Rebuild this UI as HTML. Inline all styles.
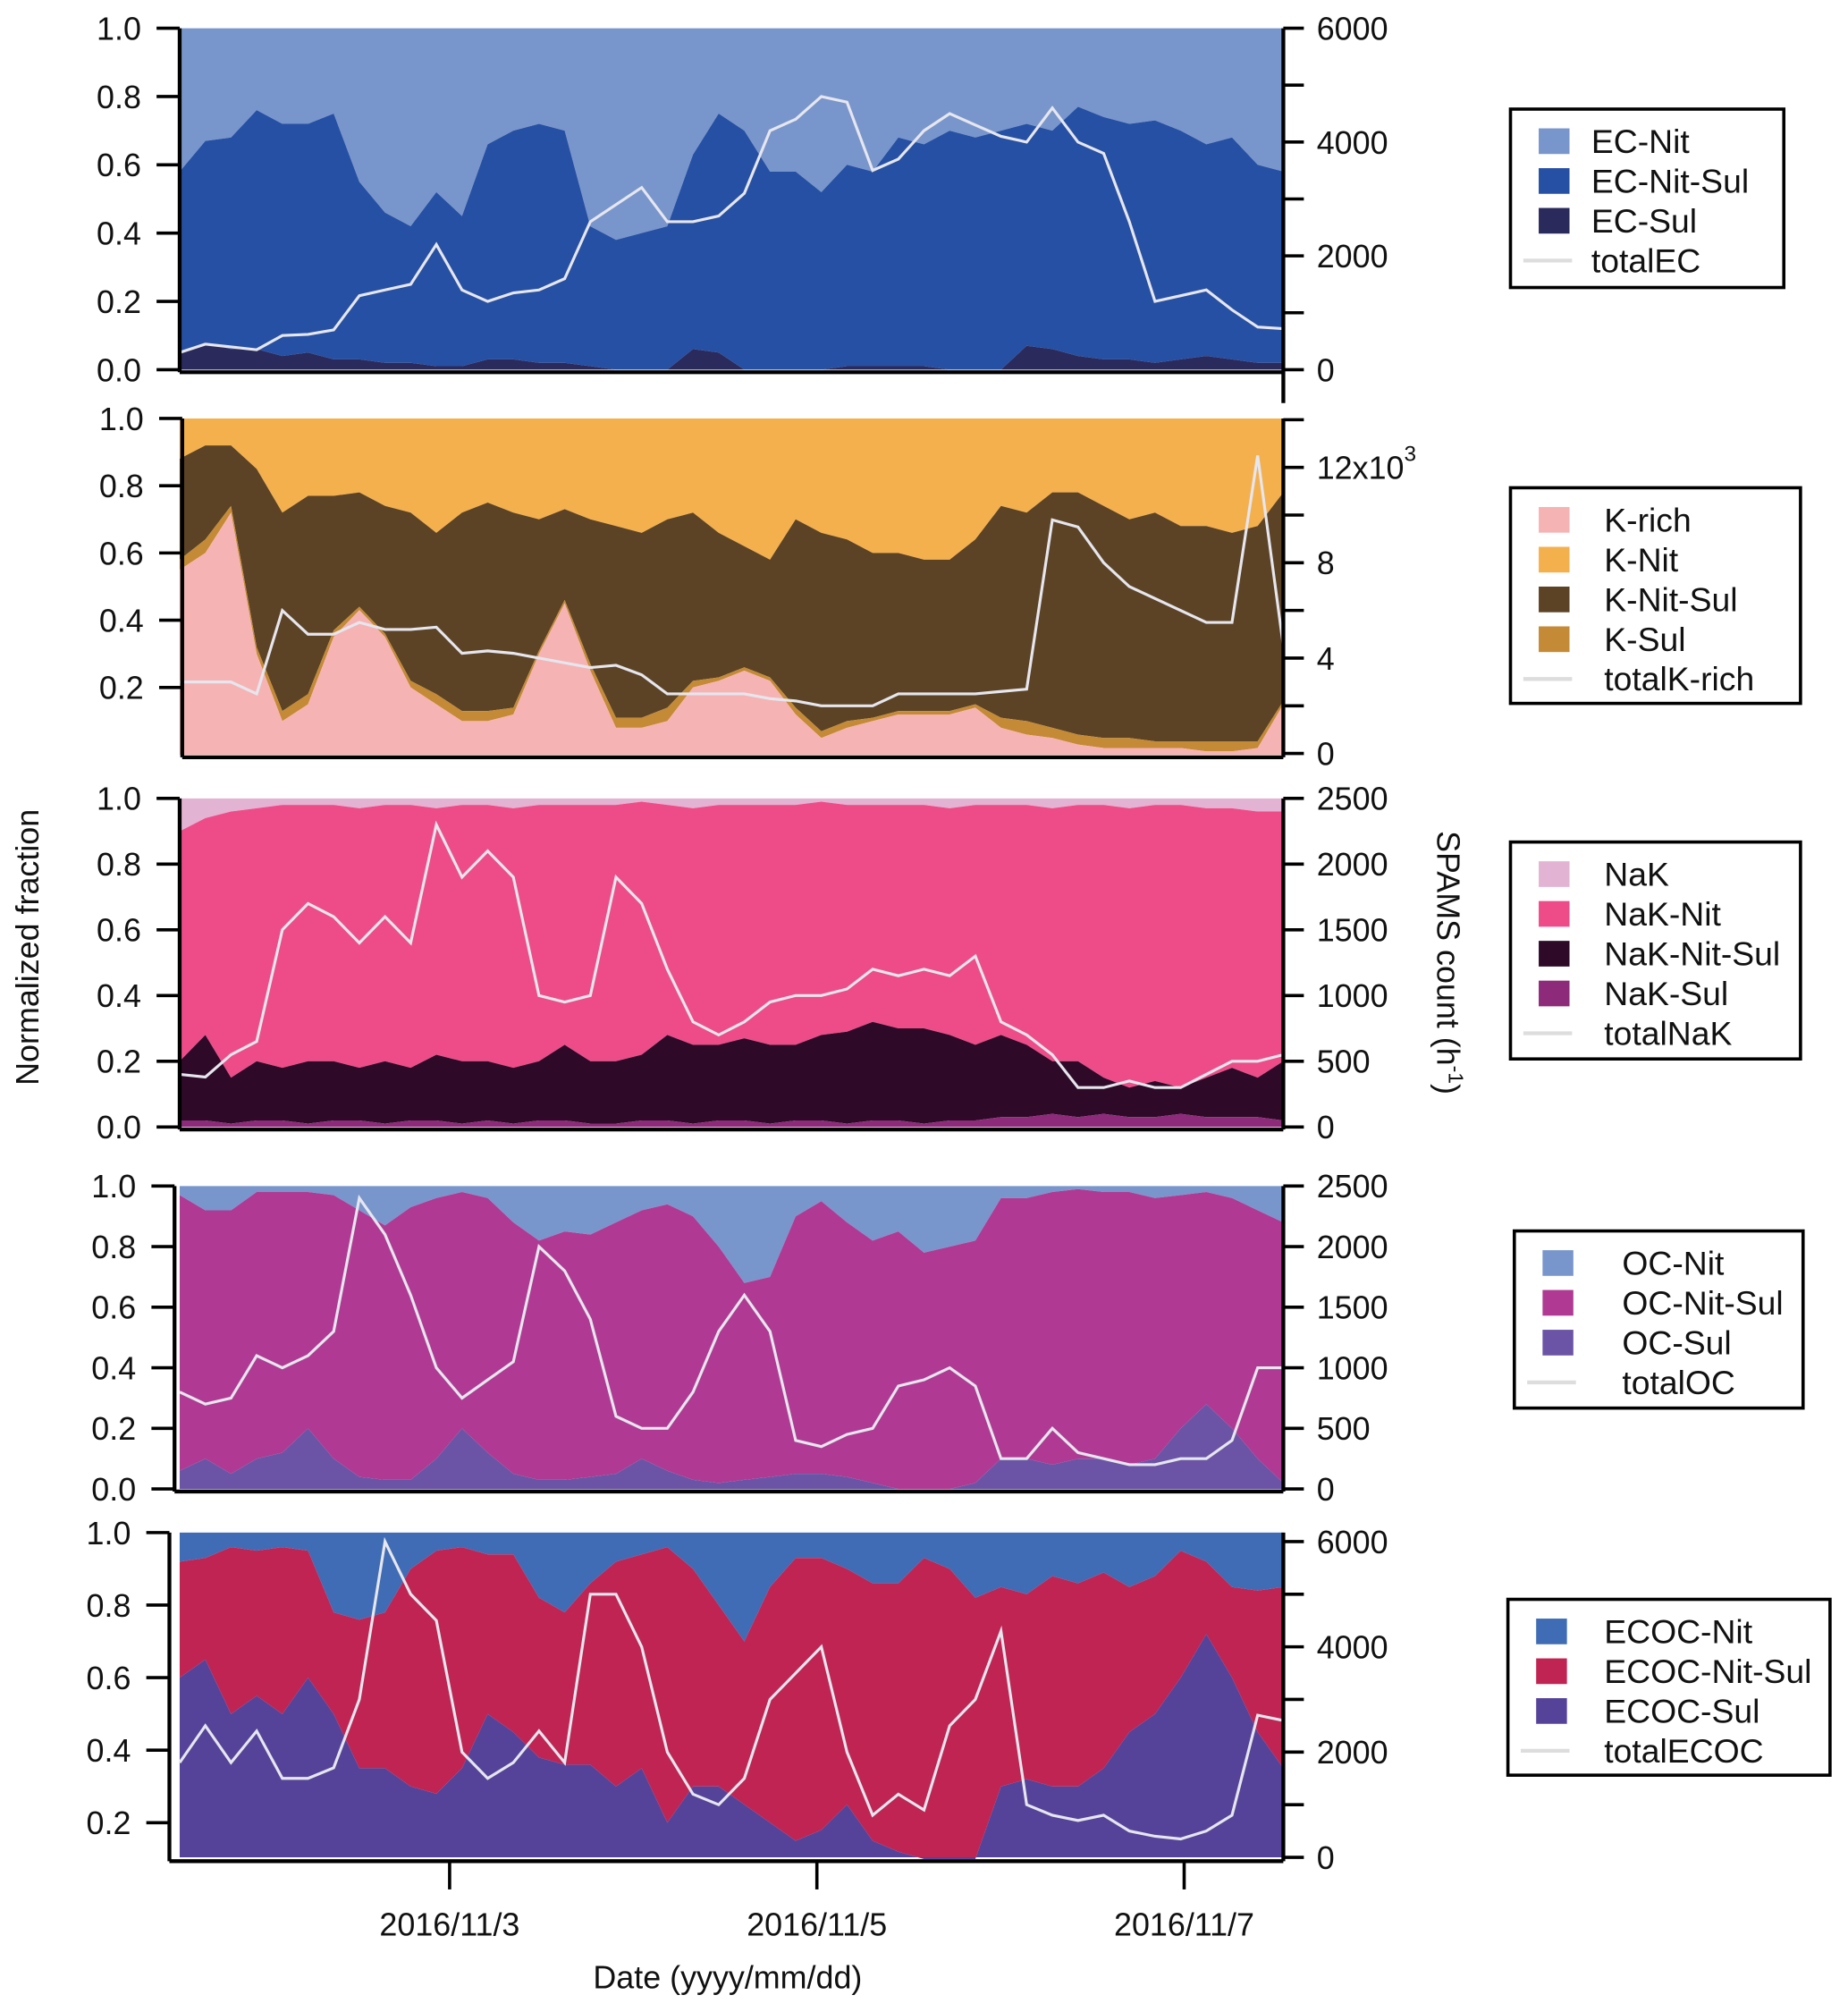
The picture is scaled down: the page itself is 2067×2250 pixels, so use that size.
<!DOCTYPE html>
<html><head><meta charset="utf-8"><style>
html,body{margin:0;padding:0;background:#fff}
svg{display:block}
text{font-family:"Liberation Sans",Arial,sans-serif;fill:#111}
</style></head><body>
<svg id="chart" width="2067" height="2250" viewBox="0 0 1440 1567.5" xmlns="http://www.w3.org/2000/svg"></svg>
<script>
const nPts = 44;
// Panel 1: EC
const ecSul = [0.05,0.08,0.06,0.06,0.04,0.05,0.03,0.03,0.02,0.02,0.01,0.01,0.03,0.03,0.02,0.02,0.01,0.0,0.0,0.0,0.06,0.05,0.0,0.0,0.0,0.0,0.01,0.01,0.01,0.01,0.0,0.0,0.0,0.07,0.06,0.04,0.03,0.03,0.02,0.03,0.04,0.03,0.02,0.02];
const ecNitSulTop = [0.58,0.67,0.68,0.76,0.72,0.72,0.75,0.55,0.46,0.42,0.52,0.45,0.66,0.70,0.72,0.70,0.42,0.38,0.40,0.42,0.63,0.75,0.70,0.58,0.58,0.52,0.60,0.58,0.68,0.66,0.70,0.68,0.70,0.72,0.70,0.77,0.74,0.72,0.73,0.70,0.66,0.68,0.60,0.58];
const totalEC = [300,450,400,350,600,620,700,1300,1400,1500,2200,1400,1200,1350,1400,1600,2600,2900,3200,2600,2600,2700,3100,4200,4400,4800,4700,3500,3700,4200,4500,4300,4100,4000,4600,4000,3800,2600,1200,1300,1400,1050,750,720];
// Panel 2: K
const kRich = [0.55,0.6,0.72,0.3,0.1,0.15,0.35,0.43,0.35,0.2,0.15,0.10,0.10,0.12,0.3,0.45,0.25,0.08,0.08,0.1,0.2,0.22,0.25,0.22,0.12,0.05,0.08,0.1,0.12,0.12,0.12,0.14,0.08,0.06,0.05,0.03,0.02,0.02,0.02,0.02,0.01,0.01,0.02,0.15];
const kSul = [0.03,0.04,0.02,0.02,0.03,0.03,0.02,0.01,0.01,0.02,0.03,0.03,0.03,0.02,0.01,0.01,0.02,0.03,0.03,0.04,0.02,0.01,0.01,0.01,0.02,0.02,0.02,0.01,0.01,0.01,0.01,0.01,0.03,0.04,0.03,0.03,0.03,0.03,0.02,0.02,0.03,0.03,0.02,0.01];
const kNitSulTop = [0.88,0.92,0.92,0.85,0.72,0.77,0.77,0.78,0.74,0.72,0.66,0.72,0.75,0.72,0.70,0.73,0.70,0.68,0.66,0.70,0.72,0.66,0.62,0.58,0.70,0.66,0.64,0.60,0.60,0.58,0.58,0.64,0.74,0.72,0.78,0.78,0.74,0.70,0.72,0.68,0.68,0.66,0.68,0.78];
const totalK = [3.0,3.0,3.0,2.5,6.0,5.0,5.0,5.5,5.2,5.2,5.3,4.2,4.3,4.2,4.0,3.8,3.6,3.7,3.3,2.5,2.5,2.5,2.5,2.3,2.2,2.0,2.0,2.0,2.5,2.5,2.5,2.5,2.6,2.7,9.8,9.5,8.0,7.0,6.5,6.0,5.5,5.5,12.5,4.5];
// Panel 3: NaK
const nakSul = [0.02,0.02,0.01,0.02,0.02,0.01,0.02,0.02,0.01,0.02,0.02,0.01,0.02,0.01,0.02,0.02,0.01,0.01,0.02,0.02,0.01,0.02,0.02,0.01,0.02,0.02,0.01,0.02,0.02,0.01,0.02,0.02,0.03,0.03,0.04,0.03,0.04,0.03,0.03,0.04,0.03,0.03,0.03,0.02];
const nakNitSul = [0.18,0.26,0.14,0.18,0.16,0.19,0.18,0.16,0.19,0.16,0.2,0.19,0.18,0.17,0.18,0.23,0.19,0.19,0.2,0.26,0.24,0.23,0.25,0.24,0.23,0.26,0.28,0.3,0.28,0.29,0.26,0.23,0.25,0.22,0.16,0.17,0.11,0.09,0.11,0.08,0.12,0.15,0.12,0.18];
const nakFrac = [0.1,0.06,0.04,0.03,0.02,0.02,0.02,0.03,0.02,0.02,0.03,0.02,0.02,0.03,0.02,0.02,0.02,0.02,0.01,0.02,0.03,0.02,0.02,0.02,0.02,0.01,0.02,0.02,0.02,0.02,0.03,0.02,0.02,0.02,0.03,0.02,0.02,0.03,0.02,0.02,0.03,0.03,0.04,0.04];
const totalNaK = [400,380,550,650,1500,1700,1600,1400,1600,1400,2300,1900,2100,1900,1000,950,1000,1900,1700,1200,800,700,800,950,1000,1000,1050,1200,1150,1200,1150,1300,800,700,550,300,300,350,300,300,400,500,500,550];
// Panel 4: OC
const ocSul = [0.06,0.1,0.05,0.1,0.12,0.2,0.1,0.04,0.03,0.03,0.1,0.2,0.12,0.05,0.03,0.03,0.04,0.05,0.1,0.06,0.03,0.02,0.03,0.04,0.05,0.05,0.04,0.02,0.0,0.0,0.0,0.02,0.1,0.1,0.08,0.1,0.1,0.08,0.1,0.2,0.28,0.2,0.1,0.02];
const ocNitSulTop = [0.97,0.92,0.92,0.98,0.98,0.98,0.97,0.92,0.87,0.93,0.96,0.98,0.96,0.88,0.82,0.85,0.84,0.88,0.92,0.94,0.90,0.80,0.68,0.70,0.90,0.95,0.88,0.82,0.85,0.78,0.80,0.82,0.96,0.96,0.98,0.99,0.98,0.98,0.96,0.97,0.98,0.96,0.92,0.88];
const totalOC = [800,700,750,1100,1000,1100,1300,2400,2100,1600,1000,750,900,1050,2000,1800,1400,600,500,500,800,1300,1600,1300,400,350,450,500,850,900,1000,850,250,250,500,300,250,200,200,250,250,400,1000,1000];
// Panel 5: ECOC
const ecocSulTop = [0.6,0.65,0.5,0.55,0.5,0.6,0.5,0.35,0.35,0.3,0.28,0.35,0.5,0.45,0.38,0.36,0.36,0.3,0.35,0.2,0.3,0.3,0.25,0.2,0.15,0.18,0.25,0.15,0.12,0.1,0.1,0.1,0.3,0.32,0.3,0.3,0.35,0.45,0.5,0.6,0.72,0.6,0.45,0.35];
const ecocNitSulTop = [0.92,0.93,0.96,0.95,0.96,0.95,0.78,0.76,0.78,0.9,0.95,0.96,0.94,0.94,0.82,0.78,0.86,0.92,0.94,0.96,0.9,0.8,0.7,0.85,0.93,0.93,0.9,0.86,0.86,0.93,0.9,0.82,0.85,0.83,0.88,0.86,0.89,0.85,0.88,0.95,0.92,0.85,0.84,0.85];
const totalECOC = [1800,2500,1800,2400,1500,1500,1700,3000,6000,5000,4500,2000,1500,1800,2400,1800,5000,5000,4000,2000,1200,1000,1500,3000,3500,4000,2000,800,1200,900,2500,3000,4300,1000,800,700,800,500,400,350,500,800,2700,2600];
const dateLabels = ["2016/11/3","2016/11/5","2016/11/7"];
const dateTickDays = [1.47,3.47,5.47];

const svg = document.getElementById('chart');
const NS = 'http://www.w3.org/2000/svg';
function mk(tag, attrs, parent){const e=document.createElementNS(NS,tag);for(const k in attrs)e.setAttribute(k,attrs[k]);(parent||svg).appendChild(e);return e;}
const X0=140, X1=1000, DAYS=6.01;
function xAt(i){return X0 + (i*(DAYS/(nPts-1)))*(X1-X0)/DAYS;}
function xDay(d){return X0 + d*(X1-X0)/DAYS;}

function panel(cfg){
  const g = mk('g',{});
  
  
  const yL = v => cfg.y0 - v*(cfg.y0-cfg.y1);
  const yR = v => cfg.r0 - v/cfg.rMax*(cfg.r0-cfg.r1);
  const fb = cfg.fillBottom!=null ? cfg.fillBottom : cfg.y0;
  cfg.layers.forEach(L=>{
    let d='';
    for(let i=0;i<nPts;i++) d+=(i?'L':'M')+xAt(i).toFixed(1)+','+yL(L.top(i)).toFixed(1);
    for(let i=nPts-1;i>=0;i--){const b=L.bot(i);d+='L'+xAt(i).toFixed(1)+','+(b==null?fb:yL(b)).toFixed(1);}
    const p = mk('path',{d:d+'Z',fill:L.color},g);
    
    
  });
  let d='';
  cfg.total.forEach((v,i)=>{d+=(i?'L':'M')+xAt(i).toFixed(1)+','+yR(v).toFixed(1);});
  const ln = mk('path',{d,fill:'none',stroke:'#e6e6ee','stroke-width':2.2},g);
  
  
  mk('line',{x1:cfg.ax,y1:cfg.y1,x2:cfg.ax,y2:cfg.bot,stroke:'#000','stroke-width':3},g);
  mk('line',{x1:X1,y1:cfg.y1,x2:X1,y2:cfg.bot+(cfg.extra||0),stroke:'#000','stroke-width':3},g);
  mk('line',{x1:cfg.ax,y1:cfg.bot,x2:X1,y2:cfg.bot,stroke:'#000','stroke-width':3},g);
  cfg.lTicks.forEach(v=>{
    const y=yL(v);
    mk('line',{x1:cfg.ax-18,y1:y,x2:cfg.ax,y2:y,stroke:'#000','stroke-width':2.5},g);
    const t=mk('text',{x:cfg.ax-30,y:y+9,'text-anchor':'end','font-size':25},g);t.textContent=v.toFixed(1);
    
    
  });
  cfg.rTicks.forEach((v,k)=>{
    const y=yR(v);
    mk('line',{x1:X1,y1:y,x2:X1+16,y2:y,stroke:'#000','stroke-width':2.5},g);
    if(cfg.rLabels[k]!==''){const t=mk('text',{x:X1+26,y:y+9,'font-size':25},g);
    if(cfg.rLabels[k]==='12x10^3'){t.innerHTML='12x10<tspan dy="-14" font-size="17">3</tspan>';}
    else t.textContent=cfg.rLabels[k];
    
    }
  });
  const lg=mk('g',{},g);
  
  
  mk('rect',{x:cfg.lg[0],y:cfg.lg[1],width:cfg.lg[2],height:cfg.lg[3],fill:'#fff',stroke:'#000','stroke-width':2.5},lg);
  cfg.legend.forEach((e,k)=>{
    const y=cfg.lg[1]+25+k*cfg.lgStep;
    if(e.line) mk('line',{x1:cfg.lg[0]+10,y1:y,x2:cfg.lg[0]+48,y2:y,stroke:'#ddd','stroke-width':3},lg);
    else mk('rect',{x:cfg.lg[0]+22,y:y-10,width:24,height:20,fill:e.color},lg);
    const t=mk('text',{x:cfg.lg[0]+cfg.txo,y:y+9,'font-size':26},lg);t.textContent=e.label;
    
    
  });
}

const c1={nit:'#7896cc',ns:'#2650a3',s:'#2a2a5c'};
panel({name:'ec',y0:288,y1:22,bot:290,extra:24,ax:140,r0:288,r1:22,rMax:6000,
 layers:[{name:'ec-nit',color:c1.nit,top:()=>1,bot:i=>ecNitSulTop[i]},
  {name:'ec-nit-sul',color:c1.ns,top:i=>ecNitSulTop[i],bot:i=>ecSul[i]},
  {name:'ec-sul',color:c1.s,top:i=>ecSul[i],bot:()=>0}],
 total:totalEC,lTicks:[0,0.2,0.4,0.6,0.8,1.0],
 rTicks:[0,1000,2000,3000,4000,5000,6000],rLabels:['0','','2000','','4000','','6000'],
 lg:[1177,85,213,139],lgStep:31,txo:63,
 legend:[{label:'EC-Nit',color:c1.nit},{label:'EC-Nit-Sul',color:c1.ns},{label:'EC-Sul',color:c1.s},{label:'totalEC',line:1}]});

const c2={rich:'#f6b3b4',nit:'#f5b04e',ns:'#5c4325',s:'#c48a35'};
panel({name:'k',y0:588,y1:326,bot:590,ax:142,r0:587,r1:327,rMax:14,
 layers:[{name:'k-nit',color:c2.nit,top:()=>1,bot:i=>kNitSulTop[i]},
  {name:'k-nit-sul',color:c2.ns,top:i=>kNitSulTop[i],bot:i=>kRich[i]+kSul[i]},
  {name:'k-sul',color:c2.s,top:i=>kRich[i]+kSul[i],bot:i=>kRich[i]},
  {name:'k-rich',color:c2.rich,top:i=>kRich[i],bot:()=>0}],
 total:totalK,lTicks:[0.2,0.4,0.6,0.8,1.0],
 rTicks:[0,2,4,6,8,10,12,14],rLabels:['0','','4','','8','','12x10^3',''],
 lg:[1177,380,226,168],lgStep:31,txo:73,
 legend:[{label:'K-rich',color:c2.rich},{label:'K-Nit',color:c2.nit},{label:'K-Nit-Sul',color:c2.ns},{label:'K-Sul',color:c2.s},{label:'totalK-rich',line:1}]});

const c3={nak:'#e3b3d3',nit:'#ee4c88',ns:'#2e0a28',s:'#8e2a7a'};
panel({name:'nak',y0:878,y1:622,bot:880,ax:140,r0:878,r1:622,rMax:2500,
 layers:[{name:'nak',color:c3.nak,top:()=>1,bot:i=>1-nakFrac[i]},
  {name:'nak-nit',color:c3.nit,top:i=>1-nakFrac[i],bot:i=>nakSul[i]+nakNitSul[i]},
  {name:'nak-nit-sul',color:c3.ns,top:i=>nakSul[i]+nakNitSul[i],bot:i=>nakSul[i]},
  {name:'nak-sul',color:c3.s,top:i=>nakSul[i],bot:()=>0}],
 total:totalNaK,lTicks:[0,0.2,0.4,0.6,0.8,1.0],
 rTicks:[0,500,1000,1500,2000,2500],rLabels:['0','500','1000','1500','2000','2500'],
 lg:[1177,656,226,169],lgStep:31,txo:73,
 legend:[{label:'NaK',color:c3.nak},{label:'NaK-Nit',color:c3.nit},{label:'NaK-Nit-Sul',color:c3.ns},{label:'NaK-Sul',color:c3.s},{label:'totalNaK',line:1}]});

const c4={nit:'#7896cc',ns:'#b03a93',s:'#6b54a5'};
panel({name:'oc',y0:1160,y1:924,bot:1162,ax:136,r0:1160,r1:924,rMax:2500,
 layers:[{name:'oc-nit',color:c4.nit,top:()=>1,bot:i=>ocNitSulTop[i]},
  {name:'oc-nit-sul',color:c4.ns,top:i=>ocNitSulTop[i],bot:i=>ocSul[i]},
  {name:'oc-sul',color:c4.s,top:i=>ocSul[i],bot:()=>0}],
 total:totalOC,lTicks:[0,0.2,0.4,0.6,0.8,1.0],
 rTicks:[0,500,1000,1500,2000,2500],rLabels:['0','500','1000','1500','2000','2500'],
 lg:[1180,959,225,138],lgStep:31,txo:84,
 legend:[{label:'OC-Nit',color:c4.nit},{label:'OC-Nit-Sul',color:c4.ns},{label:'OC-Sul',color:c4.s},{label:'totalOC',line:1}]});

const c5={nit:'#3f6cb5',ns:'#c02453',s:'#55439a'};
panel({name:'ecoc',y0:1476.5,y1:1194,bot:1450,ax:132,fillBottom:1447,r0:1447,r1:1201,rMax:6000,
 layers:[{name:'ecoc-nit',color:c5.nit,top:()=>1,bot:i=>ecocNitSulTop[i]},
  {name:'ecoc-nit-sul',color:c5.ns,top:i=>ecocNitSulTop[i],bot:i=>ecocSulTop[i]},
  {name:'ecoc-sul',color:c5.s,top:i=>ecocSulTop[i],bot:()=>null}],
 total:totalECOC,lTicks:[0.2,0.4,0.6,0.8,1.0],
 rTicks:[0,1000,2000,3000,4000,5000,6000],rLabels:['0','','2000','','4000','','6000'],
 lg:[1175,1246,251,137],lgStep:31,txo:75,
 legend:[{label:'ECOC-Nit',color:c5.nit},{label:'ECOC-Nit-Sul',color:c5.ns},{label:'ECOC-Sul',color:c5.s},{label:'totalECOC',line:1}]});

dateTickDays.forEach((d,k)=>{
  const x=xDay(d);
  mk('line',{x1:x,y1:1450,x2:x,y2:1472,stroke:'#000','stroke-width':2.5});
  const t=mk('text',{x:x,y:1508,'text-anchor':'middle','font-size':25});t.textContent=dateLabels[k];
  
  
});
let t=mk('text',{x:567,y:1549,'text-anchor':'middle','font-size':25});t.textContent='Date (yyyy/mm/dd)';


t=mk('text',{x:0,y:0,'text-anchor':'middle','font-size':25,transform:'translate(30,738) rotate(-90)'});t.textContent='Normalized fraction';


t=mk('text',{x:0,y:0,'text-anchor':'middle','font-size':25,transform:'translate(1120,750) rotate(90)'});
t.innerHTML='SPAMS count (h<tspan dy="-9" font-size="16">-1</tspan><tspan dy="9">)</tspan>';


</script>
</body></html>
